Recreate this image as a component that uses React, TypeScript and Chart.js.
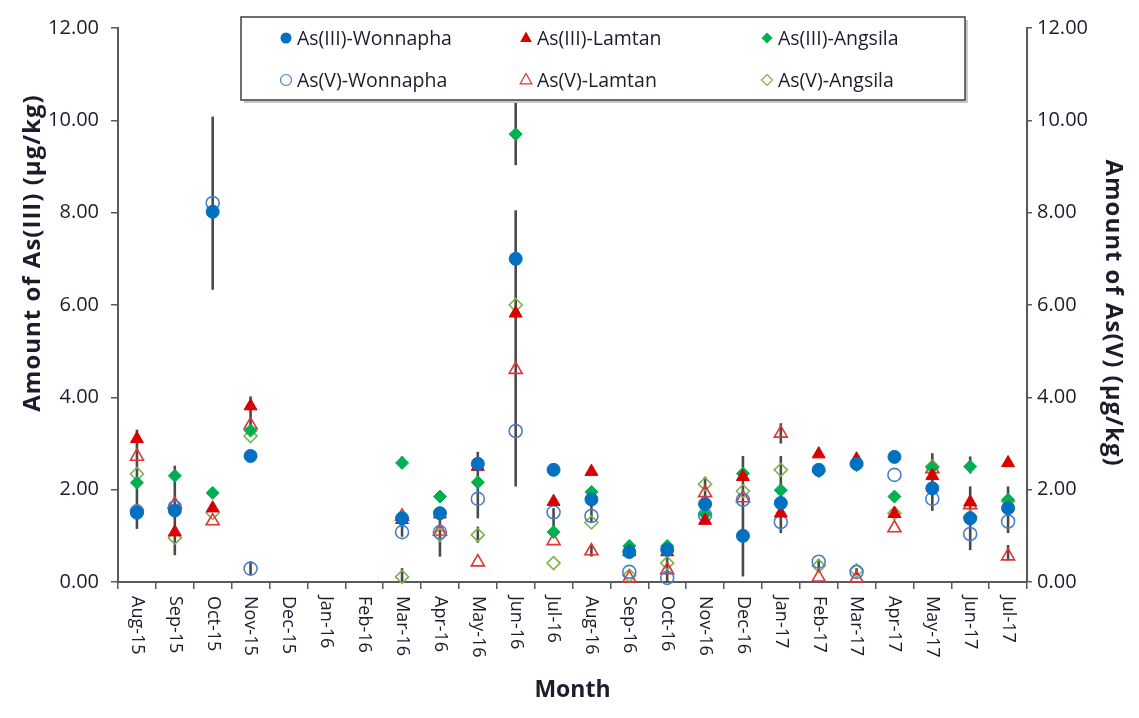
import React, { useEffect, useRef } from "react";
import { Chart, registerables } from "chart.js";

Chart.register(...registerables);

const months = [
  "Aug-15", "Sep-15", "Oct-15", "Nov-15", "Dec-15", "Jan-16", "Feb-16", "Mar-16",
  "Apr-16", "May-16", "Jun-16", "Jul-16", "Aug-16", "Sep-16", "Oct-16", "Nov-16",
  "Dec-16", "Jan-17", "Feb-17", "Mar-17", "Apr-17", "May-17", "Jun-17", "Jul-17",
];

const as3Wonnapha = [1.50, 1.55, 8.02, 2.73, null, null, null, 1.38, 1.49, 2.56, 7.00, 2.43, 1.79, 0.65, 0.70, 1.69, 1.00, 1.71, 2.43, 2.56, 2.71, 2.03, 1.38, 1.60];
const as3Lamtan = [3.10, 1.08, 1.60, 3.81, null, null, null, 1.35, 1.47, 2.50, 5.82, 1.74, 2.39, 0.65, 0.65, 1.33, 2.28, 1.49, 2.77, 2.66, 1.48, 2.30, 1.73, 2.58];
const as3Angsila = [2.15, 2.30, 1.93, 3.28, null, null, null, 2.58, 1.85, 2.16, 9.70, 1.08, 1.95, 0.78, 0.78, 1.47, 2.35, 1.99, 2.40, 2.53, 1.85, 2.48, 2.50, 1.78];
const as5Wonnapha = [1.53, 1.62, 8.21, 0.29, null, null, null, 1.08, 1.08, 1.80, 3.27, 1.51, 1.43, 0.22, 0.09, 1.45, 1.78, 1.30, 0.44, 0.22, 2.32, 1.80, 1.04, 1.31];
const as5Lamtan = [2.72, 1.68, 1.32, 3.40, null, null, null, 1.42, 1.10, 0.43, 4.60, 0.89, 0.67, 0.08, 0.26, 1.93, 1.82, 3.22, 0.10, 0.08, 1.17, 2.45, 1.67, 0.56];
const as5Angsila = [2.34, 0.96, 1.50, 3.16, null, null, null, 0.11, 1.02, 1.02, 6.00, 0.41, 1.29, 0.14, 0.41, 2.12, 1.97, 2.43, 0.35, 0.25, 1.49, 2.50, 1.41, 1.75];

const errMonth = ["Aug-15", "Sep-15", "Oct-15", "Nov-15", "Nov-15", "Mar-16", "Mar-16", "Mar-16", "Apr-16", "May-16", "May-16", "Jun-16", "Jun-16", "Jul-16", "Aug-16", "Aug-16", "Sep-16", "Oct-16", "Nov-16", "Dec-16", "Jan-17", "Jan-17", "Feb-17", "Mar-17", "May-17", "Jun-17", "Jun-17", "Jul-17", "Jul-17"];
const errLow = [1.15, 0.58, 6.33, 3.20, 0.15, 2.48, 0.98, 0.00, 0.55, 1.38, 0.85, 9.03, 2.07, 1.20, 1.30, 0.55, 0.60, 0.00, 1.30, 0.12, 3.00, 1.06, 0.25, 0.15, 1.54, 2.35, 0.69, 1.06, 0.47];
const errHigh = [3.30, 2.52, 10.08, 4.02, 0.45, 2.72, 1.25, 0.30, 1.55, 2.82, 1.20, 10.40, 8.05, 1.60, 1.80, 0.80, 0.85, 0.65, 2.28, 2.73, 3.44, 2.73, 0.50, 0.30, 2.79, 2.72, 2.07, 2.07, 0.80];

const seriesLabels = ["As(III)-Wonnapha", "As(III)-Lamtan", "As(III)-Angsila", "As(V)-Wonnapha", "As(V)-Lamtan", "As(V)-Angsila"];
const seriesData = [as3Wonnapha, as3Lamtan, as3Angsila, as5Wonnapha, as5Lamtan, as5Angsila];
const seriesColors = ["#0070C0", "#D80000", "#00B050", "#4A7EC8", "#E03434", "#7DB24F"];
const seriesShapes = ["circle", "triangle", "rectRot", "circle", "triangle", "rectRot"];
const seriesFilled = [true, true, true, false, false, false];

const leftTitle = "Amount of As(III) (µg/kg)";
const rightTitle = "Amount of As(V) (µg/kg)";
const bottomTitle = "Month";

const TEXT = "#1c1c2c";
const AXIS = "#595959";

function drawShape(c: CanvasRenderingContext2D, shape: string, x: number, y: number, r: number, color: string, filled: boolean) {
  c.beginPath();
  if (shape === "circle") {
    c.arc(x, y, r, 0, Math.PI * 2);
  } else if (shape === "triangle") {
    c.moveTo(x, y - r);
    c.lineTo(x + r * 0.9, y + r * 0.6);
    c.lineTo(x - r * 0.9, y + r * 0.6);
    c.closePath();
  } else {
    c.moveTo(x, y - r);
    c.lineTo(x + r, y);
    c.lineTo(x, y + r);
    c.lineTo(x - r, y);
    c.closePath();
  }
  if (filled) {
    c.fillStyle = color;
    c.fill();
  } else {
    c.strokeStyle = color;
    c.lineWidth = 1.2;
    c.stroke();
  }
}

export default function App() {
  const ref = useRef<HTMLCanvasElement>(null);

  useEffect(() => {
    const canvas = ref.current;
    if (!canvas) return;

    const errorBarPlugin = {
      id: "errorBars",
      beforeDatasetsDraw(chart: any) {
        const xs = chart.scales.x;
        const ys = chart.scales.y;
        const c = chart.ctx;
        c.save();
        c.strokeStyle = "#4a4a4a";
        c.lineWidth = 2.6;
        errMonth.forEach((m, i) => {
          const px = xs.getPixelForValue(months.indexOf(m));
          c.beginPath();
          c.moveTo(px, ys.getPixelForValue(errLow[i]));
          c.lineTo(px, ys.getPixelForValue(errHigh[i]));
          c.stroke();
        });
        c.restore();
      },
    };

    const textPlugin = {
      id: "customTexts",
      afterDraw(chart: any) {
        const xs = chart.scales.x;
        const c = chart.ctx;
        c.save();
        c.font = '18px "Open Sans"';
        c.fillStyle = TEXT;
        c.textAlign = "left";
        c.textBaseline = "middle";
        months.forEach((m, i) => {
          const px = xs.getPixelForValue(i);
          c.save();
          c.translate(px, xs.top + 14);
          c.rotate(Math.PI / 2);
          c.fillText(m, 0, 0);
          c.restore();
        });
        // y axis titles
        c.font = 'bold 24px "Open Sans"';
        (c as any).letterSpacing = "1px";
        c.textAlign = "center";
        c.save();
        c.translate(33, 253);
        c.rotate(-Math.PI / 2);
        c.fillText(leftTitle, 0, 0);
        c.restore();
        c.save();
        c.translate(1113, 313);
        c.rotate(Math.PI / 2);
        c.fillText(rightTitle, 0, 0);
        c.restore();
        c.restore();
      },
    };

    const legendPlugin = {
      id: "boxLegend",
      afterDraw(chart: any) {
        const c = chart.ctx;
        const left = 241, top = 17, right = 965, bottom = 100;
        c.save();
        c.fillStyle = "#c8c8c8";
        c.fillRect(left + 3, top + 3, right - left, bottom - top);
        c.fillStyle = "#ffffff";
        c.fillRect(left, top, right - left, bottom - top);
        c.strokeStyle = "#404040";
        c.lineWidth = 1.5;
        c.strokeRect(left, top, right - left, bottom - top);
        const colX = [286, 526, 767];
        const rowY = [38, 80];
        c.font = '19.5px "Open Sans"';
        c.textBaseline = "middle";
        c.textAlign = "left";
        seriesLabels.forEach((lab, i) => {
          const col = i % 3;
          const row = Math.floor(i / 3);
          const x = colX[col];
          const y = rowY[row];
          const r = seriesShapes[i] === "circle" ? 5.5 : seriesShapes[i] === "triangle" ? 6.5 : 5.5;
          drawShape(c, seriesShapes[i], x, y, r, seriesColors[i], seriesFilled[i]);
          c.fillStyle = TEXT;
          c.fillText(lab, x + 11, y + 1);
        });
        c.restore();
      },
    };

    const datasets = seriesLabels.map((lab, i) => ({
      label: lab,
      data: seriesData[i],
      yAxisID: i < 3 ? "y" : "y1",
      showLine: false,
      pointStyle: seriesShapes[i],
      pointRadius: seriesShapes[i] === "triangle" ? 7.5 : 6.5,
      pointHoverRadius: 6,
      pointBorderWidth: seriesFilled[i] ? 1 : 1.6,
      pointBackgroundColor: seriesFilled[i] ? seriesColors[i] : "rgba(255,255,255,0)",
      pointBorderColor: seriesColors[i],
      backgroundColor: seriesFilled[i] ? seriesColors[i] : "rgba(255,255,255,0)",
      borderColor: seriesColors[i],
      clip: false as any,
    }));

    const yTicks = {
      min: 0,
      max: 12,
      stepSize: 2,
      color: TEXT,
      font: { family: "Open Sans", size: 20 },
      callback: (v: any) => Number(v).toFixed(2),
    };

    const chart = new Chart(canvas, {
      type: "line",
      data: { labels: months, datasets: datasets as any },
      plugins: [errorBarPlugin, textPlugin, legendPlugin],
      options: {
        animation: false,
        responsive: false,
        layout: { padding: { top: 28, left: 0, right: 0, bottom: 0 } },
        plugins: {
          legend: { display: false },
          tooltip: { enabled: false },
        },
        scales: {
          x: {
            type: "category",
            offset: true,
            grid: {
              display: true,
              drawOnChartArea: false,
              drawTicks: true,
              tickLength: 7,
              offset: true,
              color: AXIS,
              lineWidth: 1.5,
            },
            border: { display: true, color: AXIS, width: 2 },
            ticks: { display: false },
            title: {
              display: true,
              text: bottomTitle,
              color: TEXT,
              font: { family: "Open Sans", size: 23, weight: "bold" },
              padding: { top: 0, bottom: 14 },
            },
            afterFit: (s: any) => { s.height = 136; },
          },
          y: {
            type: "linear",
            position: "left",
            min: 0,
            max: 12,
            grid: { drawOnChartArea: false, drawTicks: true, tickLength: 7, color: AXIS, lineWidth: 1.5 },
            border: { display: true, color: AXIS, width: 2 },
            ticks: { ...yTicks, padding: 12 },
            title: { display: false },
            afterFit: (s: any) => { s.width = 118; },
          },
          y1: {
            type: "linear",
            position: "right",
            min: 0,
            max: 12,
            grid: { drawOnChartArea: false, drawTicks: true, tickLength: 5, color: AXIS, lineWidth: 1.5 },
            border: { display: true, color: AXIS, width: 2 },
            ticks: { ...yTicks, padding: 5 },
            title: { display: false },
            afterFit: (s: any) => { s.width = 112; },
          },
        },
      } as any,
    });

    return () => chart.destroy();
  }, []);

  return (
    <div style={{ position: "fixed", left: 0, top: 0, width: 1139, height: 718, background: "#ffffff" }}>
      <canvas ref={ref} width={1139} height={718} />
    </div>
  );
}
